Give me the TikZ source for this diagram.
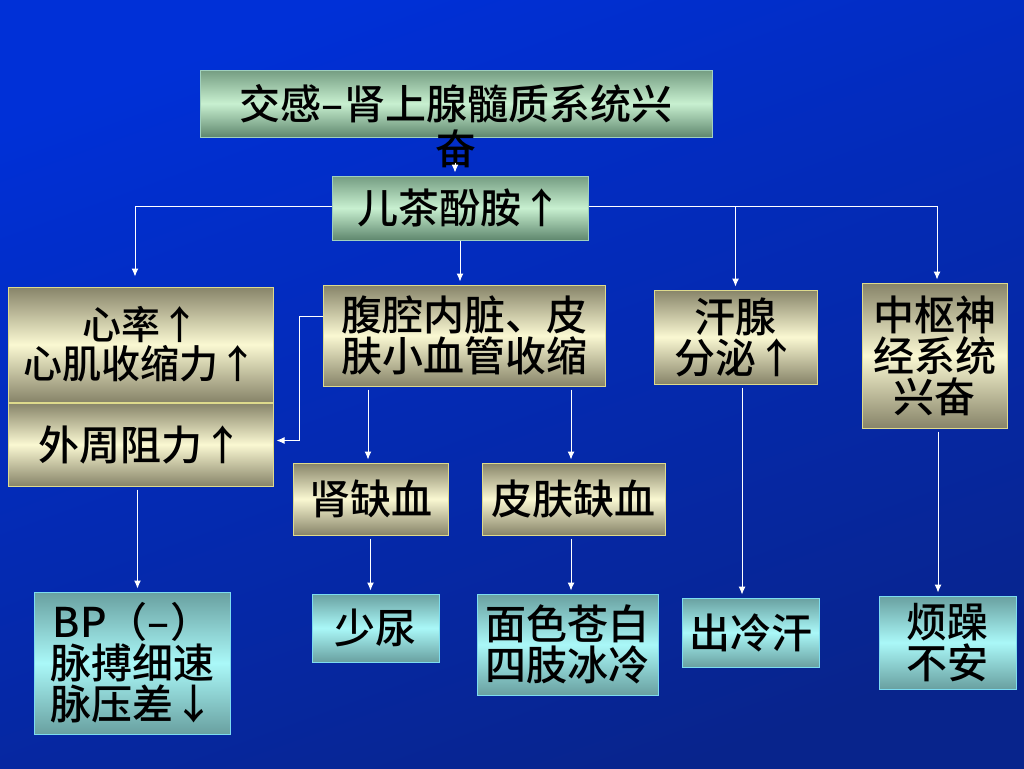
\documentclass[tikz,border=0pt]{standalone}
\usepackage{fontspec}
\IfFontExistsTF{Noto Sans CJK SC Medium}
    {\setmainfont{Noto Sans CJK SC}[BoldFont={Noto Sans CJK SC Medium}]}
    {\setmainfont{Noto Sans CJK SC}}
\usetikzlibrary{arrows.meta,positioning,calc}

\definecolor{bgtop}{RGB}{0,48,215}
\definecolor{bgbot}{RGB}{8,36,140}
\definecolor{khakidark}{RGB}{135,132,105}
\definecolor{khakilight}{RGB}{250,248,210}
\definecolor{khakiline}{RGB}{222,218,140}
\definecolor{greendark}{RGB}{95,135,110}
\definecolor{greenlight}{RGB}{200,240,208}
\definecolor{greenline}{RGB}{160,208,190}
\definecolor{cyandark}{RGB}{105,160,160}
\definecolor{cyanlight}{RGB}{170,248,248}
\definecolor{cyanline}{RGB}{125,220,240}

\begin{document}
\begin{tikzpicture}[
        x=1pt, y=-1pt,
        box/.style={
            rectangle,
            draw,
            line width=1pt,
            inner sep=0pt,
            align=center,
            text=black,
            font=\bfseries\fontsize{41}{41}\selectfont
        },
        head/.style={
            box,
            draw=greenline,
            top color=greendark!80!greenlight,
            bottom color=greendark,
            middle color=greenlight
        },
        effect/.style={
            box,
            draw=khakiline,
            top color=khakidark,
            bottom color=khakidark,
            middle color=khakilight
        },
        sign/.style={
            box,
            draw=cyanline,
            top color=cyandark,
            bottom color=cyandark,
            middle color=cyanlight
        },
        arrow/.style={
            -{Latex[length=8pt,width=7pt]},
            white,
            line width=1pt,
            shorten <=3pt,
            shorten >=3pt
        }
    ]
    % Background
    \shade[top color=bgtop, bottom color=bgbot, shading angle=20]
        (0,0) rectangle (1024,768);
    % Top of the chain (last character spills out of the box)
    \node[head, align=none, minimum width=512, minimum height=67, text height=31pt, text depth=0pt]
        (symp) at (456,103.5)
        {\begin{tabular}[t]{@{}c@{}}交感–肾上腺髓质系统兴\\[-1pt]奋\end{tabular}};
    \node[head, minimum width=256, minimum height=64] (cat) at (460,208) {儿茶酚胺↑};
    % Direct effects
    \node[effect, minimum width=265, minimum height=115, font=\bfseries\fontsize{39}{39}\selectfont]
        (heart) at (140.5,344.5) {心率↑\\心肌收缩力↑};
    \node[effect, minimum width=265, minimum height=83] (resist) at (140.5,444.5) {外周阻力↑};
    \node[effect, minimum width=282, minimum height=101]
        (vaso) at (464,335.5) {腹腔内脏、皮\\肤小血管收缩};
    \node[effect, minimum width=163, minimum height=94]
        (sweat) at (735.5,337) {汗腺\\分泌↑};
    \node[effect, minimum width=145, minimum height=145]
        (cns) at (934.5,355.5) {中枢神\\经系统\\兴奋};
    \node[effect, minimum width=155, minimum height=72] (renal) at (370.5,499) {肾缺血};
    \node[effect, minimum width=183, minimum height=72] (skin) at (573.5,499) {皮肤缺血};
    % Clinical signs
    \node[sign, minimum width=196, minimum height=142]
        (bp) at (132,663) {BP（–）\\脉搏细速\\脉压差↓};
    \node[sign, minimum width=127, minimum height=68] (oligo) at (375.5,628) {少尿};
    \node[sign, minimum width=181, minimum height=101]
        (pale) at (567.5,644.5) {面色苍白\\四肢冰冷};
    \node[sign, minimum width=137, minimum height=69] (coldsweat) at (750.5,632.5) {出冷汗};
    \node[sign, minimum width=137, minimum height=93]
        (restless) at (947.5,642.5) {烦躁\\不安};
    % Connections
    \draw[arrow, shorten <=25pt] ([xshift=-1pt]symp.south) -- ([xshift=-5pt]cat.north);
    \draw[arrow, shorten <=0pt, shorten >=10pt] ([yshift=2pt]cat.west) -| ([xshift=-5.5pt]heart.north);
    \draw[arrow, shorten <=0pt] ([yshift=2pt]cat.east) -| (sweat.north);
    \draw[arrow, shorten <=0pt] ([yshift=2pt]cat.east) -| ([xshift=2.5pt]cns.north);
    \draw[arrow, shorten <=0pt] (cat.south) -- (cat.south |- vaso.north);
    \draw[arrow, shorten <=0pt] ([yshift=19pt]vaso.west) -- ++(-23,0) |- ([yshift=4pt]resist.east);
    \draw[arrow] ([xshift=-3pt]resist.south) -- ([xshift=-3pt]resist.south |- bp.north);
    \draw[arrow] ([xshift=-2.5pt]renal.north |- vaso.south) -- ([xshift=-2.5pt]renal.north);
    \draw[arrow] ([xshift=-2.5pt]skin.north |- vaso.south) -- ([xshift=-2.5pt]skin.north);
    \draw[arrow] (renal.south) -- (renal.south |- oligo.north);
    \draw[arrow] ([xshift=-2.5pt]skin.south) -- ([xshift=-2.5pt]skin.south |- pale.north);
    \draw[arrow] ([xshift=6.5pt]sweat.south) -- ([xshift=6.5pt]sweat.south |- coldsweat.north);
    \draw[arrow] ([xshift=3.5pt]cns.south) -- ([xshift=3.5pt]cns.south |- restless.north);
\end{tikzpicture}
\end{document}
